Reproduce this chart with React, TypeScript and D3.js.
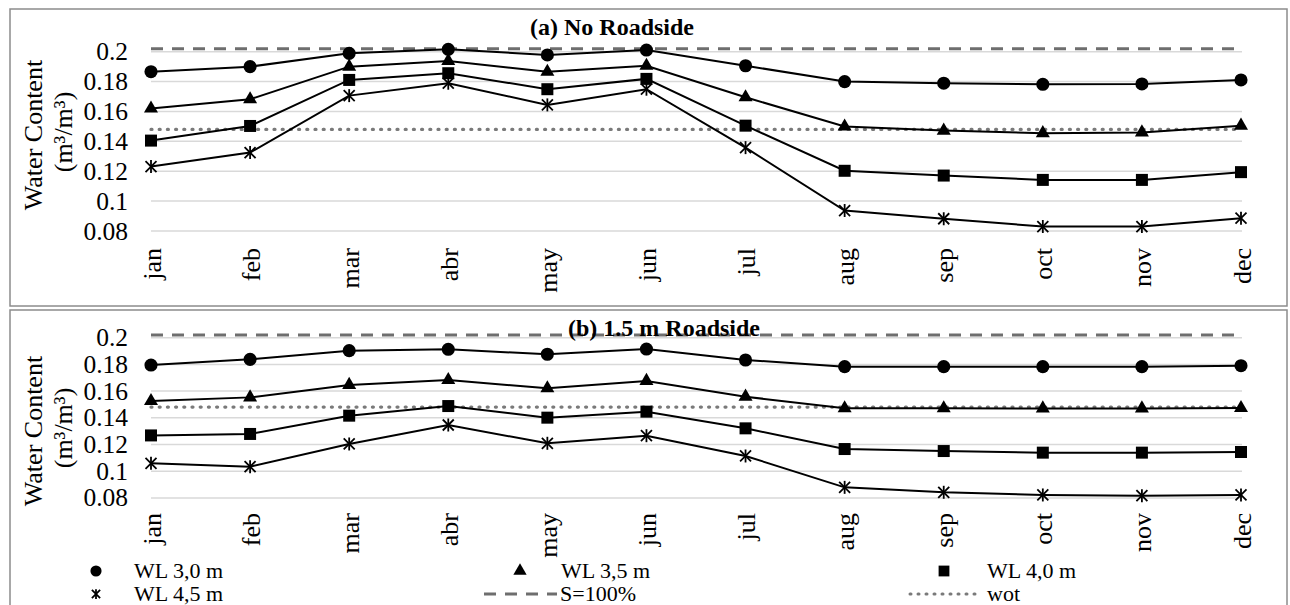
import React from "react";
import * as d3 from "d3";

const months = ["jan", "feb", "mar", "abr", "may", "jun", "jul", "aug", "sep", "oct", "nov", "dec"];
const yTicks = [0.08, 0.1, 0.12, 0.14, 0.16, 0.18, 0.2];
const yTickLabels = ["0.08", "0.1", "0.12", "0.14", "0.16", "0.18", "0.2"];

// (a) No Roadside
const a30 = [0.1866, 0.19, 0.1989, 0.2016, 0.1978, 0.2011, 0.1906, 0.18, 0.1789, 0.1782, 0.1784, 0.1811];
const a35 = [0.162, 0.1682, 0.19, 0.1938, 0.1866, 0.1906, 0.1695, 0.1499, 0.1472, 0.1455, 0.146, 0.1505];
const a40 = [0.1405, 0.1503, 0.1811, 0.1856, 0.1749, 0.1818, 0.1505, 0.1203, 0.1171, 0.1142, 0.1142, 0.1194];
const a45 = [0.1231, 0.1325, 0.1706, 0.1789, 0.1644, 0.1749, 0.1358, 0.0937, 0.0882, 0.083, 0.083, 0.0886];

// (b) 1.5 m Roadside
const b30 = [0.1795, 0.1838, 0.1903, 0.1913, 0.1876, 0.1915, 0.1833, 0.1783, 0.1783, 0.1783, 0.1783, 0.179];
const b35 = [0.1526, 0.1553, 0.1646, 0.1683, 0.1621, 0.1676, 0.1558, 0.1471, 0.1471, 0.147, 0.147, 0.1473];
const b40 = [0.1268, 0.1279, 0.1416, 0.1488, 0.1401, 0.1446, 0.1321, 0.1166, 0.1151, 0.1139, 0.1139, 0.1144];
const b45 = [0.1059, 0.1034, 0.1204, 0.1346, 0.1209, 0.1266, 0.1114, 0.0879, 0.0842, 0.0822, 0.0817, 0.0822];

const sat100 = 0.202;
const wot = 0.148;

const seriesNames = ["WL 3,0 m", "WL 3,5 m", "WL 4,0 m", "WL 4,5 m"];
const markerKinds = ["circle", "triangle", "square", "asterisk"];

const FONT = "Liberation Serif, Times New Roman, DejaVu Serif, serif";

function Marker({ kind, x, y, s = 1 }: { kind: string; x: number; y: number; s?: number }) {
  if (kind === "asterisk") {
    const a = 5.5 * s;
    const v = 6.5 * s;
    return (
      <g transform={`translate(${x},${y})`} stroke="#000" strokeWidth={1.8} fill="none">
        <line x1={-a} y1={-a} x2={a} y2={a} />
        <line x1={-a} y1={a} x2={a} y2={-a} />
        <line x1={0} y1={-v} x2={0} y2={v} />
      </g>
    );
  }
  const type = kind === "circle" ? d3.symbolCircle : kind === "triangle" ? d3.symbolTriangle : d3.symbolSquare;
  const size = kind === "circle" ? 135 * s * s : kind === "triangle" ? 85 * s * s : 144 * s * s;
  const p = d3.symbol().type(type).size(size)() as string;
  return <path d={p} transform={`translate(${x},${y})`} fill="#000" />;
}

function Panel({
  top,
  height,
  y0,
  y1,
  title,
  titleX,
  titleY,
  data,
  labelTop,
  axisTitleY,
}: {
  top: number;
  height: number;
  y0: number;
  y1: number;
  title: string;
  titleX: number;
  titleY: number;
  data: number[][];
  labelTop: number;
  axisTitleY: number;
}) {
  const x = d3.scalePoint<string>().domain(months).range([151, 1241]);
  const y = d3.scaleLinear().domain([0.08, 0.2]).range([y0, y1]);
  const line = d3
    .line<number>()
    .x((_, i) => x(months[i]) as number)
    .y((d) => y(d));
  const tf = { fontFamily: FONT };
  return (
    <g>
      <rect x={10} y={top} width={1277} height={height} fill="#fff" stroke="#8c8c8c" strokeWidth={1.5} />
      {yTicks.map((t) => (
        <line key={t} x1={151} x2={1242} y1={y(t)} y2={y(t)} stroke="#d9d9d9" strokeWidth={1.5} />
      ))}
      {yTicks.map((t, i) => (
        <text key={t} x={128} y={y(t)} textAnchor="end" dominantBaseline="central" fontSize={25.5} style={tf}>
          {yTickLabels[i]}
        </text>
      ))}
      {months.map((m) => (
        <text
          key={m}
          transform={`translate(${(x(m) as number) + 1},${labelTop}) rotate(-90)`}
          textAnchor="end"
          dominantBaseline="central"
          fontSize={26}
          style={tf}
        >
          {m}
        </text>
      ))}
      <text transform={`translate(42,${axisTitleY}) rotate(-90)`} textAnchor="middle" fontSize={26} style={tf}>
        Water Content
      </text>
      <text transform={`translate(72,${axisTitleY - 3}) rotate(-90)`} textAnchor="middle" fontSize={26} style={tf}>
        (m³/m³)
      </text>
      <line x1={151} x2={1241} y1={y(sat100)} y2={y(sat100)} stroke="#6e6e6e" strokeWidth={3} strokeDasharray="12 9" />
      <line
        x1={151}
        x2={1241}
        y1={y(wot)}
        y2={y(wot)}
        stroke="#7a7a7a"
        strokeWidth={3.2}
        strokeDasharray="1 7.2"
        strokeLinecap="round"
      />
      {data.map((s, k) => (
        <g key={k}>
          <path d={line(s) as string} fill="none" stroke="#000" strokeWidth={2} />
          {s.map((v, i) => (
            <Marker key={i} kind={markerKinds[k]} x={x(months[i]) as number} y={y(v)} />
          ))}
        </g>
      ))}
      <text x={titleX} y={titleY} fontSize={24} fontWeight="bold" style={tf}>
        {title}
      </text>
    </g>
  );
}

export default function App() {
  const legendRow1 = 571;
  const legendRow2 = 594;
  const tf = { fontFamily: FONT };
  return (
    <svg width={1290} height={605} style={{ position: "absolute", left: 0, top: 0, background: "#fff" }}>
      <rect x={0} y={0} width={1290} height={605} fill="#fff" />
      <Panel
        top={9}
        height={297}
        y0={231}
        y1={51.7}
        title="(a) No Roadside"
        titleX={530}
        titleY={35}
        data={[a30, a35, a40, a45]}
        labelTop={248}
        axisTitleY={135}
      />
      <Panel
        top={310}
        height={320}
        y0={497.9}
        y1={337.7}
        title="(b) 1.5 m Roadside"
        titleX={568}
        titleY={336}
        data={[b30, b35, b40, b45]}
        labelTop={513}
        axisTitleY={431}
      />
      {/* legend */}
      <g fontSize={22} style={tf}>
        <Marker kind="circle" x={96} y={legendRow1} s={0.85} />
        <text x={134} y={legendRow1 + 7}>{seriesNames[0]}</text>
        <Marker kind="triangle" x={520} y={legendRow1} s={0.95} />
        <text x={561} y={legendRow1 + 7}>{seriesNames[1]}</text>
        <Marker kind="square" x={944} y={legendRow1} s={0.9} />
        <text x={987} y={legendRow1 + 7}>{seriesNames[2]}</text>
        <Marker kind="asterisk" x={96} y={legendRow2} s={0.75} />
        <text x={134} y={legendRow2 + 7}>{seriesNames[3]}</text>
        <line x1={484} x2={557} y1={legendRow2} y2={legendRow2} stroke="#6e6e6e" strokeWidth={3} strokeDasharray="12 9" />
        <text x={560} y={legendRow2 + 7}>S=100%</text>
        <line
          x1={910}
          x2={979}
          y1={legendRow2}
          y2={legendRow2}
          stroke="#7a7a7a"
          strokeWidth={3}
          strokeDasharray="1 7"
          strokeLinecap="round"
        />
        <text x={987} y={legendRow2 + 7}>wot</text>
      </g>
    </svg>
  );
}
